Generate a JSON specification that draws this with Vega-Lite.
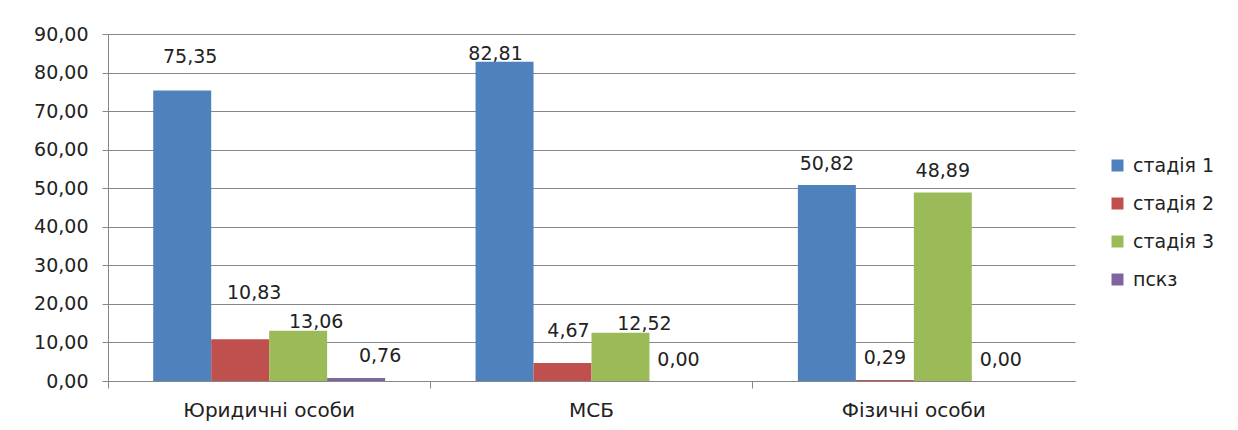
{
  "$schema": "https://vega.github.io/schema/vega-lite/v6.json",
  "width": 967,
  "height": 347,
  "autosize": "none",
  "padding": {"left": 108, "top": 34, "right": 163, "bottom": 49},
  "background": "white",
  "data": {
    "values": [
      {"group": "Юридичні особи", "series": "стадія 1", "value": 75.35},
      {"group": "Юридичні особи", "series": "стадія 2", "value": 10.83},
      {"group": "Юридичні особи", "series": "стадія 3", "value": 13.06},
      {"group": "Юридичні особи", "series": "пскз", "value": 0.76},
      {"group": "МСБ", "series": "стадія 1", "value": 82.81},
      {"group": "МСБ", "series": "стадія 2", "value": 4.67},
      {"group": "МСБ", "series": "стадія 3", "value": 12.52},
      {"group": "МСБ", "series": "пскз", "value": 0.0},
      {"group": "Фізичні особи", "series": "стадія 1", "value": 50.82},
      {"group": "Фізичні особи", "series": "стадія 2", "value": 0.29},
      {"group": "Фізичні особи", "series": "стадія 3", "value": 48.89},
      {"group": "Фізичні особи", "series": "пскз", "value": 0.0}
    ]
  },
  "encoding": {
    "x": {
      "field": "group",
      "type": "nominal",
      "sort": ["Юридичні особи", "МСБ", "Фізичні особи"],
      "scale": {"paddingInner": 0, "paddingOuter": 0},
      "axis": {
        "title": null,
        "labelAngle": 0,
        "bandPosition": 0,
        "tickSize": 7,
        "tickColor": "#878787",
        "domainColor": "#878787",
        "labelPadding": 12,
        "labelFontSize": 20,
        "labelFont": "DejaVu Sans",
        "labelColor": "#222222",
        "grid": false
      }
    },
    "xOffset": {
      "field": "series",
      "type": "nominal",
      "sort": ["стадія 1", "стадія 2", "стадія 3", "пскз"],
      "scale": {"paddingInner": 0, "paddingOuter": 0.78}
    },
    "y": {
      "field": "value",
      "type": "quantitative",
      "scale": {"domain": [0, 90]},
      "axis": {
        "title": null,
        "values": [0, 10, 20, 30, 40, 50, 60, 70, 80, 90],
        "format": ".2f",
        "grid": true,
        "gridColor": "#878787",
        "gridWidth": 1,
        "tickSize": 6,
        "tickColor": "#878787",
        "domainColor": "#878787",
        "labelFontSize": 19,
        "labelFont": "DejaVu Sans",
        "labelColor": "#222222",
        "labelPadding": 14
      }
    }
  },
  "layer": [
    {
      "mark": {"type": "bar"},
      "encoding": {
        "color": {
          "field": "series",
          "type": "nominal",
          "sort": ["стадія 1", "стадія 2", "стадія 3", "пскз"],
          "scale": {
            "domain": ["стадія 1", "стадія 2", "стадія 3", "пскз"],
            "range": ["#4F81BD", "#C0504D", "#9BBB59", "#8064A2"]
          },
          "legend": {
            "title": null,
            "orient": "none",
            "legendX": 1000,
            "legendY": 122,
            "symbolType": "square",
            "symbolSize": 144,
            "symbolStrokeWidth": 0,
            "rowPadding": 18,
            "labelFontSize": 19,
            "labelFont": "DejaVu Sans",
            "labelColor": "#222222",
            "labelOffset": 6
          }
        }
      }
    },
    {
      "transform": [{"filter": "datum.group == 'Фізичні особи' || (datum.group == 'МСБ' && datum.series == 'пскз')"}],
      "mark": {"type": "text", "baseline": "middle", "dy": -21.5, "fontSize": 19, "font": "DejaVu Sans", "color": "#222222"},
      "encoding": {"text": {"field": "value", "type": "quantitative", "format": ".2f"}}
    },
    {
      "transform": [{"filter": "datum.group == 'Юридичні особи' && datum.series == 'стадія 1'"}],
      "mark": {"type": "text", "baseline": "middle", "dx": 8, "dy": -33.5, "fontSize": 19, "font": "DejaVu Sans", "color": "#222222"},
      "encoding": {"text": {"field": "value", "type": "quantitative", "format": ".2f"}}
    },
    {
      "transform": [{"filter": "datum.group == 'Юридичні особи' && datum.series == 'стадія 2'"}],
      "mark": {"type": "text", "baseline": "middle", "dx": 14, "dy": -46.5, "fontSize": 19, "font": "DejaVu Sans", "color": "#222222"},
      "encoding": {"text": {"field": "value", "type": "quantitative", "format": ".2f"}}
    },
    {
      "transform": [{"filter": "datum.group == 'Юридичні особи' && datum.series == 'стадія 3'"}],
      "mark": {"type": "text", "baseline": "middle", "dx": 18, "dy": -9, "fontSize": 19, "font": "DejaVu Sans", "color": "#222222"},
      "encoding": {"text": {"field": "value", "type": "quantitative", "format": ".2f"}}
    },
    {
      "transform": [{"filter": "datum.group == 'Юридичні особи' && datum.series == 'пскз'"}],
      "mark": {"type": "text", "baseline": "middle", "dx": 24, "dy": -22.5, "fontSize": 19, "font": "DejaVu Sans", "color": "#222222"},
      "encoding": {"text": {"field": "value", "type": "quantitative", "format": ".2f"}}
    },
    {
      "transform": [{"filter": "datum.group == 'МСБ' && datum.series == 'стадія 1'"}],
      "mark": {"type": "text", "baseline": "middle", "dx": -9, "dy": -8, "fontSize": 19, "font": "DejaVu Sans", "color": "#222222"},
      "encoding": {"text": {"field": "value", "type": "quantitative", "format": ".2f"}}
    },
    {
      "transform": [{"filter": "datum.group == 'МСБ' && datum.series == 'стадія 2'"}],
      "mark": {"type": "text", "baseline": "middle", "dx": 6, "dy": -32, "fontSize": 19, "font": "DejaVu Sans", "color": "#222222"},
      "encoding": {"text": {"field": "value", "type": "quantitative", "format": ".2f"}}
    },
    {
      "transform": [{"filter": "datum.group == 'МСБ' && datum.series == 'стадія 3'"}],
      "mark": {"type": "text", "baseline": "middle", "dx": 24, "dy": -8.5, "fontSize": 19, "font": "DejaVu Sans", "color": "#222222"},
      "encoding": {"text": {"field": "value", "type": "quantitative", "format": ".2f"}}
    }
  ],
  "config": {
    "view": {"stroke": null},
    "locale": {
      "number": {"decimal": ",", "thousands": " ", "grouping": [3], "currency": ["", ""]}
    }
  }
}
